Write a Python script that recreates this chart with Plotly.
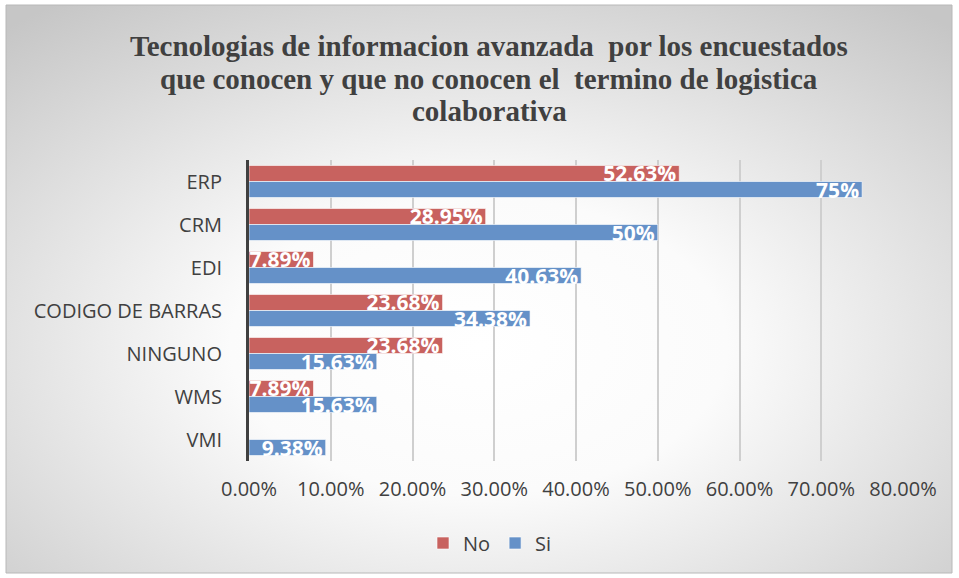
import base64
import plotly.graph_objects as go

categories = ["ERP", "CRM", "EDI", "CODIGO DE BARRAS", "NINGUNO", "WMS", "VMI"]
no_values = [52.63, 28.95, 7.89, 23.68, 23.68, 7.89, 0]
si_values = [75, 50, 40.63, 34.38, 15.63, 15.63, 9.38]
series_names = ["No", "Si"]
title_lines = [
    "Tecnologias de informacion avanzada&nbsp; por los encuestados",
    "que conocen y que no conocen el&nbsp; termino de logistica",
    "colaborativa",
]

W, H = 959, 578
ML, MR, MT, MB = 249, 56, 160, 117
PW, PH = W - ML - MR, H - MT - MB

def px_to_paper_x(px):
    return (px - ML) / PW

def px_to_paper_y(py):
    return 1 - (py - MT) / PH

svg = (
    '<svg xmlns="http://www.w3.org/2000/svg" width="946" height="568" viewBox="0 0 946 568" preserveAspectRatio="none">'
    '<defs><radialGradient id="g" cx="0.5" cy="0.6" r="0.75" fx="0.5" fy="0.6" gradientUnits="objectBoundingBox">'
    '<stop offset="0" stop-color="#ffffff"/><stop offset="0.35" stop-color="#fbfbfb"/>'
    '<stop offset="1" stop-color="#c6c6c6"/></radialGradient></defs>'
    '<rect width="946" height="568" fill="url(#g)"/></svg>'
)
bg_src = "data:image/svg+xml;base64," + base64.b64encode(svg.encode()).decode()

def fmt(v):
    return f"{v:g}%"

label_font = dict(family="Open Sans", size=21, color="white", weight="bold")

fig = go.Figure()
fig.add_trace(go.Bar(
    y=categories, x=no_values, orientation="h", name=series_names[0],
    marker=dict(color="#C8625F", line=dict(color="rgba(255,255,255,0.6)", width=1)),
    text=[fmt(v) for v in no_values], textposition="inside", insidetextanchor="end",
    constraintext="none", textfont=label_font,
))
fig.add_trace(go.Bar(
    y=categories, x=si_values, orientation="h", name=series_names[1],
    marker=dict(color="#6591C8", line=dict(color="rgba(255,255,255,0.6)", width=1)),
    text=[fmt(v) for v in si_values], textposition="inside", insidetextanchor="end",
    constraintext="none", textfont=label_font,
))

x0, x1, y0, y1 = 6, 952, 5, 573
fig.add_layout_image(dict(
    source=bg_src, xref="paper", yref="paper",
    x=px_to_paper_x(x0), y=px_to_paper_y(y0),
    sizex=(x1 - x0) / PW, sizey=(y1 - y0) / PH,
    xanchor="left", yanchor="top", sizing="stretch", layer="below",
))
fig.add_shape(type="rect", xref="paper", yref="paper",
              x0=px_to_paper_x(x0), x1=px_to_paper_x(x1),
              y0=px_to_paper_y(y0), y1=px_to_paper_y(y1),
              line=dict(color="#b8b8b8", width=1), layer="below")

title_y_px = [46, 79, 111]
for line, ypx in zip(title_lines, title_y_px):
    fig.add_annotation(
        text=line, xref="paper", yref="paper",
        x=px_to_paper_x(489), y=px_to_paper_y(ypx),
        xanchor="center", yanchor="middle", showarrow=False,
        font=dict(family="Liberation Serif", size=29, color="#404040", weight="bold"),
    )

fig.update_layout(
    width=W, height=H,
    margin=dict(l=ML, r=MR, t=MT, b=MB),
    paper_bgcolor="white", plot_bgcolor="rgba(0,0,0,0)",
    barmode="group", bargap=0.255, bargroupgap=0,
    xaxis=dict(
        range=[0, 80], dtick=10, tickformat=".2f", ticksuffix="%",
        showgrid=True, gridcolor="#cfcfcf", gridwidth=1.5,
        zeroline=False, showline=False,
        tickfont=dict(family="Open Sans", size=20, color="#404040"),
        ticks="", ticklen=0, ticklabelstandoff=14,
    ),
    yaxis=dict(
        autorange="reversed", showline=True, linecolor="#404040", linewidth=3,
        showgrid=False, ticks="", ticklabelstandoff=20,
        tickfont=dict(family="Open Sans", size=20, color="#404040"),
    ),
    legend=dict(
        orientation="h", x=px_to_paper_x(490), xanchor="center",
        y=px_to_paper_y(543), yanchor="middle",
        font=dict(family="Open Sans", size=20, color="#404040"),
        bgcolor="rgba(0,0,0,0)", itemwidth=30,
    ),
    showlegend=True,
)

fig.write_html("out.html", config={"displayModeBar": False},
               post_script="document.body.style.margin='0px';")
